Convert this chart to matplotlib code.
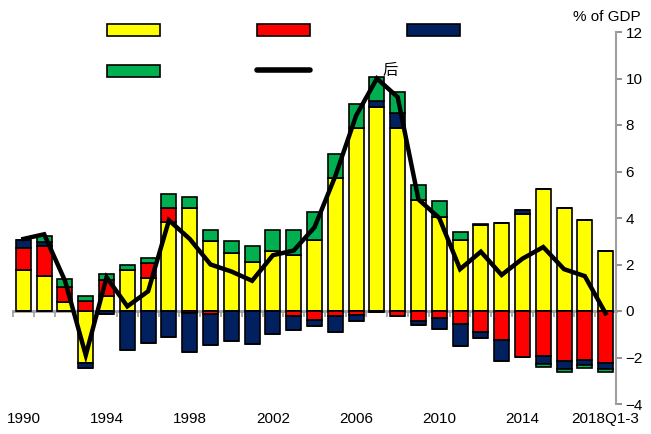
import numpy as np
import matplotlib
matplotlib.use("Agg")
import matplotlib.pyplot as plt
from matplotlib.patches import Patch
from matplotlib.lines import Line2D

plt.rcParams['font.family'] = ['Liberation Sans', 'Noto Sans CJK SC', 'DejaVu Sans']

years = [str(y) for y in range(1990, 2018)] + ['2018Q1-3']
tick_labels = ['1990', '1994', '1998', '2002', '2006', '2010', '2014', '2018Q1-3']

# components, % of GDP
goods = [1.78, 1.50, 0.40, -2.22, 0.64, 1.76, 1.43, 3.84, 4.45, 3.00,
         2.50, 2.12, 2.58, 2.40, 3.05, 5.73, 7.86, 8.79, 7.86, 4.77,
         4.06, 3.05, 3.68, 3.80, 4.17, 5.23, 4.45, 3.91, 2.59]
services = [0.91, 1.30, 0.65, 0.44, 0.69, 0.00, 0.62, 0.60, -0.10, -0.15,
            0.00, 0.00, 0.00, -0.20, -0.39, -0.20, -0.17, -0.05, -0.20, -0.42,
            -0.32, -0.56, -0.92, -1.25, -1.99, -1.92, -2.14, -2.10, -2.25]
primary = [0.36, 0.17, 0.00, -0.25, -0.14, -1.68, -1.39, -1.10, -1.68, -1.33,
           -1.28, -1.42, -1.00, -0.62, -0.26, -0.72, -0.25, 0.25, 0.64, -0.18,
           -0.47, -0.94, -0.23, -0.89, 0.17, -0.37, -0.37, -0.22, -0.26]
secondary = [0.00, 0.26, 0.31, 0.20, 0.25, 0.21, 0.24, 0.58, 0.44, 0.47,
             0.52, 0.68, 0.90, 1.08, 1.19, 1.02, 1.04, 1.04, 0.90, 0.65,
             0.68, 0.33, 0.05, -0.03, 0.00, -0.13, -0.13, -0.15, -0.13]
current = [3.1, 3.3, 1.3, -1.9, 1.45, 0.2, 0.85, 3.9, 3.1, 2.0,
           1.7, 1.3, 2.4, 2.6, 3.6, 5.8, 8.4, 10.0, 9.2, 4.8,
           4.0, 1.8, 2.55, 1.55, 2.25, 2.75, 1.8, 1.5, -0.1]

colors = ['#FFFF00', '#FF0000', '#002060', '#00B050']

fig = plt.figure(figsize=(6.51, 4.34), dpi=100)
ax = fig.add_axes([13 / 651, 1 - 404 / 434, (616 - 13) / 651, (404 - 32) / 434])

x = np.arange(len(years))
pos_base = np.zeros(len(years))
neg_base = np.zeros(len(years))
for vals, c in zip([goods, services, primary, secondary], colors):
    v = np.array(vals)
    p = np.where(v > 0, v, 0)
    n = np.where(v < 0, v, 0)
    ax.bar(x, p, 0.72, bottom=pos_base, color=c, edgecolor='black', linewidth=1.2, zorder=2)
    ax.bar(x, n, 0.72, bottom=neg_base, color=c, edgecolor='black', linewidth=1.2, zorder=2)
    pos_base += p
    neg_base += n

ax.plot(x, current, color='black', linewidth=3.2, solid_joinstyle='miter', zorder=3)

ax.text(17.65, 10.35, '后', family=['Noto Sans CJK SC'], fontsize=11,
        fontweight='light', ha='center', va='center')

ax.set_xlim(-0.5, len(years) - 0.5)
ax.set_ylim(-4, 12)

# right axis
ax.yaxis.tick_right()
ax.set_yticks(range(-4, 13, 2))
ax.tick_params(axis='y', colors='#808080', labelcolor='black', labelsize=11,
               length=4, width=1.2, direction='out', pad=3)
for s in ['left', 'top', 'bottom']:
    ax.spines[s].set_visible(False)
ax.spines['right'].set_color('#a0a0a0')
ax.spines['right'].set_linewidth(1.5)

# year labels at the bottom
ax.set_xticks(x[::4])
ax.set_xticklabels(tick_labels)
ax.tick_params(axis='x', length=0, labelsize=11, pad=6)

# zero line with ticks between bars
zero_pos = (0 - (-4)) / 16
sec = ax.secondary_xaxis(zero_pos)
sec.set_xticks(np.arange(-0.5, len(years), 1.0))
sec.set_xticklabels([])
sec.tick_params(axis='x', direction='out', length=4, width=1.2, colors='#a0a0a0')
sec.spines['bottom'].set_color('#a0a0a0')
sec.spines['bottom'].set_linewidth(2)

fig.text(641 / 651, 1 - 17 / 434, '% of GDP', ha='right', va='center', fontsize=11)

handles = [Patch(facecolor=colors[0], edgecolor='black', linewidth=1.2),
           Patch(facecolor=colors[3], edgecolor='black', linewidth=1.2),
           Patch(facecolor=colors[1], edgecolor='black', linewidth=1.2),
           Line2D([], [], color='black', linewidth=4, solid_capstyle='round'),
           Patch(facecolor=colors[2], edgecolor='black', linewidth=1.2)]
fig.legend(handles, [''] * 5, ncol=3, loc='upper left',
           bbox_to_anchor=(107 / 651, 1 - 24 / 434), frameon=False,
           fontsize=10, handlelength=3.8, handleheight=0.95, handletextpad=0,
           columnspacing=7.0, labelspacing=1.9, borderpad=0, borderaxespad=0)

fig.savefig('out.png', dpi=100)
